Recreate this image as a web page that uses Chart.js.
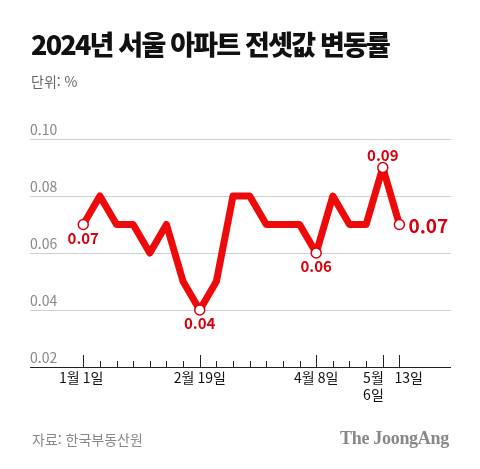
<!DOCTYPE html>
<html lang="ko">
<head>
<meta charset="UTF-8">
<title>2024년 서울 아파트 전셋값 변동률</title>
<style>
    body {
        margin: 0;
        width: 480px;
        height: 469px;
        background: #fff;
        font-family: "Noto Sans CJK KR", "Noto Sans", sans-serif;
        position: relative;
        overflow: hidden;
    }
    #title {
        position: absolute;
        left: 31px;
        top: 24px;
        font-size: 27px;
        font-weight: 900;
        letter-spacing: -1.8px;
        color: #111;
        white-space: nowrap;
    }
    #unit {
        position: absolute;
        left: 31px;
        top: 71px;
        font-size: 14px;
        color: #666;
    }
    #source {
        position: absolute;
        left: 32px;
        top: 429px;
        font-size: 14px;
        color: #888;
    }
    #logo {
        position: absolute;
        left: 340px;
        top: 428px;
        font-family: "Liberation Serif", "DejaVu Serif", serif;
        font-weight: bold;
        font-size: 18px;
        color: #888;
        letter-spacing: -0.3px;
    }
    #chart {
        position: absolute;
        left: 0;
        top: 0;
    }
</style>
</head>
<body>
<canvas id="chart" width="480" height="469"></canvas>
<div id="title">2024년 서울 아파트 전셋값 변동률</div>
<div id="unit">단위: %</div>
<div id="source">자료: 한국부동산원</div>
<div id="logo">The JoongAng</div>

<script src="https://cdn.jsdelivr.net/npm/chart.js"></script>
<script>
    // weekly data, 2024-01-01 ~ 2024-05-13
    var weeks = ['1월 1일', '1월 8일', '1월 15일', '1월 22일', '1월 29일', '2월 5일', '2월 12일', '2월 19일',
        '2월 26일', '3월 4일', '3월 11일', '3월 18일', '3월 25일', '4월 1일', '4월 8일', '4월 15일',
        '4월 22일', '4월 29일', '5월 6일', '5월 13일'];
    var changeRate = [0.07, 0.08, 0.07, 0.07, 0.06, 0.07, 0.05, 0.04, 0.05, 0.08,
        0.08, 0.07, 0.07, 0.07, 0.06, 0.08, 0.07, 0.07, 0.09, 0.07];
    var yTicks = [0.02, 0.04, 0.06, 0.08, 0.10];

    // axis labels shown under the axis (index -> lines)
    var xLabels = { 0: ['1월 1일'], 7: ['2월 19일'], 14: ['4월 8일'], 18: ['5월', '6일'], 19: ['13일'] };
    var xLabelAlign = { 0: 'center', 7: 'center', 14: 'center', 18: 'right', 19: 'left' };
    var xLabelShift = { 0: -2, 7: 0, 14: 0, 18: 1, 19: -5 };

    // highlighted points: index -> where the value label goes
    var highlights = { 0: 'below', 7: 'below', 14: 'below', 18: 'above', 19: 'right' };

    var RED = '#ee0a0a';
    var LABEL_RED = '#d8000c';

    var axisPlugin = {
        id: 'axisDeco',
        afterDraw: function (chart) {
            var ctx = chart.ctx;
            var xs = chart.scales.x;
            var ys = chart.scales.y;
            var base = ys.getPixelForValue(yTicks[0]);
            ctx.save();
            // tick marks pointing up from the axis
            ctx.strokeStyle = '#222';
            ctx.lineWidth = 1;
            for (var i = 0; i < weeks.length; i++) {
                var x = Math.round(xs.getPixelForValue(i)) + 0.5;
                var h = xLabels[i] ? 12 : 6;
                ctx.beginPath();
                ctx.moveTo(x, base);
                ctx.lineTo(x, base - h);
                ctx.stroke();
            }
            // tick labels
            ctx.fillStyle = '#111';
            ctx.font = '14px "Noto Sans CJK KR"';
            ctx.textBaseline = 'top';
            Object.keys(xLabels).forEach(function (k) {
                var idx = +k;
                var x = xs.getPixelForValue(idx) + xLabelShift[idx];
                ctx.textAlign = xLabelAlign[idx];
                xLabels[idx].forEach(function (line, j) {
                    ctx.fillText(line, x, base + 4 + j * 17);
                });
            });
            // value labels for highlighted points
            Object.keys(highlights).forEach(function (k) {
                var idx = +k;
                var px = xs.getPixelForValue(idx);
                var py = ys.getPixelForValue(changeRate[idx]);
                var txt = changeRate[idx].toFixed(2);
                ctx.fillStyle = LABEL_RED;
                var pos = highlights[idx];
                if (pos === 'right') {
                    ctx.font = 'bold 19px "Noto Sans CJK KR"';
                    ctx.textAlign = 'left';
                    ctx.textBaseline = 'middle';
                    ctx.fillText(txt, px + 9, py + 1);
                } else {
                    ctx.font = 'bold 15px "Noto Sans CJK KR"';
                    ctx.textAlign = 'center';
                    ctx.textBaseline = pos === 'below' ? 'top' : 'bottom';
                    ctx.fillText(txt, px, pos === 'below' ? py + 6 : py - 5);
                }
            });
            ctx.restore();
        }
    };

    var ctx = document.getElementById('chart').getContext('2d');
    new Chart(ctx, {
        type: 'line',
        data: {
            datasets: [{
                data: changeRate.map(function (v, i) { return { x: i, y: v }; }),
                borderColor: RED,
                borderWidth: 7,
                borderJoinStyle: 'round',
                borderCapStyle: 'round',
                tension: 0,
                pointRadius: changeRate.map(function (v, i) { return highlights[i] ? 5 : 0; }),
                pointBackgroundColor: '#fff',
                pointBorderColor: LABEL_RED,
                pointBorderWidth: 1.5,
                clip: false
            }]
        },
        options: {
            responsive: false,
            animation: false,
            devicePixelRatio: 1,
            layout: { padding: { left: 30, right: 29, top: 139, bottom: 94 } },
            plugins: {
                legend: { display: false },
                tooltip: { enabled: false }
            },
            scales: {
                x: {
                    type: 'linear',
                    min: -3.2,
                    max: 22.1,
                    grid: { display: false },
                    ticks: { display: false },
                    border: { display: false }
                },
                y: {
                    min: 0.02,
                    max: 0.10,
                    afterBuildTicks: function (axis) {
                        axis.ticks = yTicks.map(function (v) { return { value: v }; });
                    },
                    grid: {
                        drawTicks: false,
                        color: function (c) { return c.tick && c.tick.value === yTicks[0] ? '#222' : '#cfcfcf'; },
                        lineWidth: 1
                    },
                    border: { display: false },
                    ticks: {
                        mirror: true,
                        padding: 0,
                        labelOffset: -9,
                        color: '#888',
                        font: { family: '"Noto Sans CJK KR"', size: 14 },
                        callback: function (v) { return v.toFixed(2); }
                    }
                }
            }
        },
        plugins: [axisPlugin]
    });
</script>
</body>
</html>
